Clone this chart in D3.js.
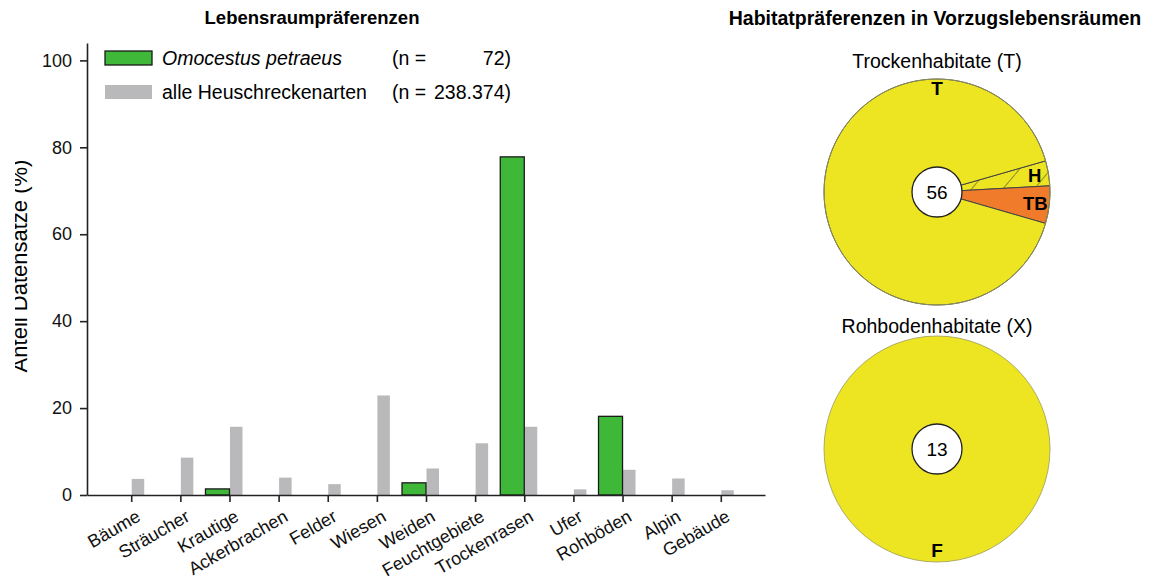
<!DOCTYPE html>
<html>
<head>
<meta charset="utf-8">
<script src="https://cdn.jsdelivr.net/npm/d3@7"></script>
<style>
  body { margin: 0; background: #fff; }
  svg { display: block; font-family: "Liberation Sans", Arial, sans-serif; }
</style>
</head>
<body>
<div id="chart"></div>
<script>
'use strict';

// Balkendiagramm
var categories = ["Bäume", "Sträucher", "Krautige", "Ackerbrachen", "Felder", "Wiesen", "Weiden",
  "Feuchtgebiete", "Trockenrasen", "Ufer", "Rohböden", "Alpin", "Gebäude"];
var omocestus = [0, 0, 1.4, 0, 0, 0, 2.8, 0, 77.8, 0, 18.1, 0, 0];
var alleArten = [3.7, 8.6, 15.7, 4.0, 2.5, 22.9, 6.1, 11.9, 15.7, 1.3, 5.8, 3.8, 1.1];
var yTicks = [0, 20, 40, 60, 80, 100];
var legendItems = [
  {name: "Omocestus petraeus", n: "72)", italic: true},
  {name: "alle Heuschreckenarten", n: "238.374)", italic: false}
];

// Kreisdiagramme
var trockenKeys = ["H", "TB", "T"];
var trockenValues = [2, 3, 51];
var rohbodenKeys = ["F"];
var rohbodenValues = [13];

var width = 1151, height = 580;
var green = "#3fb83a", grey = "#b9b9bc", yellow = "#eee522", orange = "#ef7b2b";

var svg = d3.select("#chart").append("svg")
  .attr("width", width).attr("height", height);

var defs = svg.append("defs");
defs.append("pattern")
  .attr("id", "hatch")
  .attr("patternUnits", "userSpaceOnUse")
  .attr("width", 24).attr("height", 24)
  .attr("patternTransform", "rotate(40)")
  .call(function(p){
    p.append("rect").attr("width", 24).attr("height", 24).attr("fill", yellow);
    p.append("line").attr("x1", 0).attr("y1", 0).attr("x2", 0).attr("y2", 24)
      .attr("stroke", "#333").attr("stroke-width", 1);
  });
defs.append("clipPath").attr("id", "ylabClip")
  .append("rect").attr("x", 15).attr("y", 0).attr("width", 60).attr("height", height);

//scales
var x = d3.scalePoint().domain(categories).range([87, 765]).padding(0.9);
var y = d3.scaleLinear().domain([0, 104]).range([495, 43]);

// titles
svg.append("text").attr("x", 312).attr("y", 24)
  .attr("text-anchor", "middle").attr("font-weight", "bold").attr("font-size", "18.5px")
  .text("Lebensraumpräferenzen");
svg.append("text").attr("x", 935).attr("y", 25)
  .attr("text-anchor", "middle").attr("font-weight", "bold").attr("font-size", "19.5px")
  .text("Habitatpräferenzen in Vorzugslebensräumen");

// y label, clipped on the left like the scan
svg.append("g").attr("clip-path", "url(#ylabClip)")
  .append("text")
  .attr("transform", "translate(27,266) rotate(-90)")
  .attr("text-anchor", "middle").attr("font-size", "22px")
  .text("Anteil Datensätze (%)");

// bars
var rows = categories.map(function(c, i){ return {cat: c, o: omocestus[i], a: alleArten[i]}; });

svg.append("g").selectAll("rect").data(rows.filter(function(d){ return d.a > 0; }))
  .enter().append("rect")
  .attr("x", function(d){ return x(d.cat) + 0.5; })
  .attr("y", function(d){ return y(d.a); })
  .attr("width", 12.5)
  .attr("height", function(d){ return y(0) - y(d.a); })
  .attr("fill", grey);

svg.append("g").selectAll("rect").data(rows.filter(function(d){ return d.o > 0; }))
  .enter().append("rect")
  .attr("x", function(d){ return x(d.cat) - 24; })
  .attr("y", function(d){ return y(d.o); })
  .attr("width", 24)
  .attr("height", function(d){ return y(0) - y(d.o); })
  .attr("fill", green).attr("stroke", "#1a1a1a").attr("stroke-width", 1.3);

// axes
var yAxis = svg.append("g").attr("transform", "translate(87,0)")
  .call(d3.axisLeft(y).tickValues(yTicks).tickSize(7).tickSizeOuter(0).tickPadding(8));
var xAxis = svg.append("g").attr("transform", "translate(0,495)")
  .call(d3.axisBottom(x).tickSize(7).tickSizeOuter(0));

[yAxis, xAxis].forEach(function(a){
  a.selectAll("path, line").attr("stroke", "#222").attr("stroke-width", 1.6);
  a.selectAll("text").attr("fill", "#111").attr("font-family", "Liberation Sans, Arial, sans-serif");
});
yAxis.selectAll("text").attr("font-size", "18px");
xAxis.selectAll("text")
  .attr("font-size", "18px")
  .attr("text-anchor", "end")
  .attr("x", 0).attr("y", 0).attr("dy", 0)
  .attr("transform", "translate(10,25) rotate(-30)");

// legend
var legend = svg.append("g");
var lg = legend.selectAll("g").data(legendItems).enter().append("g")
  .attr("transform", function(d, i){ return "translate(0," + (51 + i * 34) + ")"; });
lg.append("rect")
  .attr("x", 105).attr("y", 0).attr("width", 47).attr("height", 14)
  .attr("fill", function(d, i){ return i === 0 ? green : grey; })
  .attr("stroke", function(d, i){ return i === 0 ? "#1a1a1a" : "none"; })
  .attr("stroke-width", 1.3);
lg.append("text").attr("x", 162).attr("y", 14)
  .attr("font-size", "19.5px")
  .attr("font-style", function(d){ return d.italic ? "italic" : "normal"; })
  .text(function(d){ return d.name; });
lg.append("text").attr("x", 392).attr("y", 14).attr("font-size", "19.5px").text("(n =");
lg.append("text").attr("x", 511).attr("y", 14).attr("font-size", "19.5px")
  .attr("text-anchor", "end").text(function(d){ return d.n; });

// pies
var pieR = 113, holeR = 25;
var pie = d3.pie().sort(null).value(function(d){ return d.value; });
var arc = d3.arc().innerRadius(0).outerRadius(pieR);
var labelArc = d3.arc().innerRadius(pieR - 14).outerRadius(pieR - 14);

function drawPie(cx, cy, titleY, title, keys, values, startDeg, topLabel, bottomLabel){
  var g = svg.append("g").attr("transform", "translate(" + cx + "," + cy + ")");
  var data = keys.map(function(k, i){ return {key: k, value: values[i]}; });
  var arcs = pie.startAngle(startDeg * Math.PI / 180).endAngle(startDeg * Math.PI / 180 + 2 * Math.PI)(data);

  svg.append("text").attr("x", cx).attr("y", titleY)
    .attr("text-anchor", "middle").attr("font-size", "19.5px").text(title);

  g.selectAll("path").data(arcs).enter().append("path")
    .attr("d", arc)
    .attr("fill", function(d){
      if (d.data.key === "H") return "url(#hatch)";
      if (d.data.key === "TB") return orange;
      return yellow;
    })
    .attr("stroke", function(d){ return arcs.length > 1 ? "#444" : "none"; })
    .attr("stroke-width", 1);
  g.append("circle").attr("r", pieR).attr("fill", "none").attr("stroke", "#9a9a5a").attr("stroke-width", 0.8);

  // labels for the small slices sit near the rim
  g.selectAll("text.slice").data(arcs.filter(function(d){ return d.data.key === "H" || d.data.key === "TB"; }))
    .enter().append("text").attr("class", "slice")
    .attr("transform", function(d){ return "translate(" + labelArc.centroid(d) + ")"; })
    .attr("text-anchor", "middle").attr("dy", "0.36em")
    .attr("font-weight", "bold").attr("font-size", "18.5px")
    .text(function(d){ return d.data.key; });
  if (topLabel) {
    g.append("text").attr("y", -pieR + 9).attr("dy", "0.36em")
      .attr("text-anchor", "middle").attr("font-weight", "bold").attr("font-size", "19px").text(topLabel);
  }
  if (bottomLabel) {
    g.append("text").attr("y", pieR - 12).attr("dy", "0.36em")
      .attr("text-anchor", "middle").attr("font-weight", "bold").attr("font-size", "19px").text(bottomLabel);
  }

  g.append("circle").attr("r", holeR).attr("fill", "#fff").attr("stroke", "#222").attr("stroke-width", 1.3);
  g.append("text").attr("text-anchor", "middle").attr("dy", "0.36em").attr("font-size", "19px")
    .text(d3.sum(values));
}

drawPie(937, 192, 68, "Trockenhabitate (T)", trockenKeys, trockenValues, 74, "T", null);
drawPie(937, 449, 333, "Rohbodenhabitate (X)", rohbodenKeys, rohbodenValues, 0, null, "F");
</script>
</body>
</html>
